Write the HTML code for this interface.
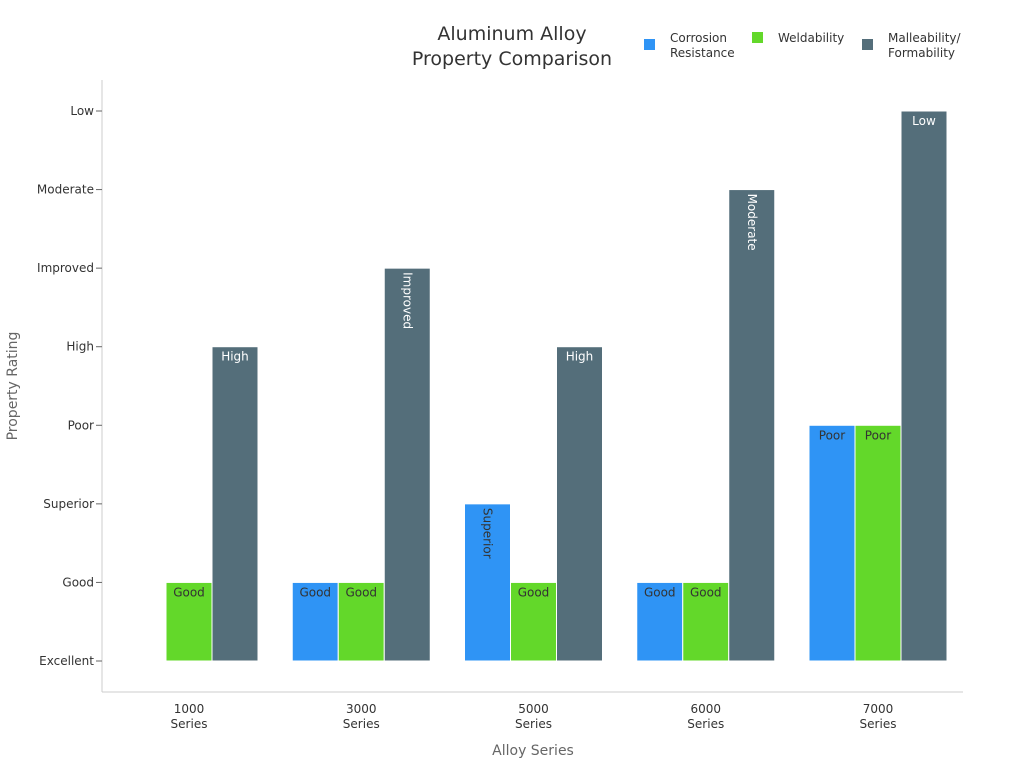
<!DOCTYPE html>
<html><head><meta charset="utf-8"><style>
body{margin:0;background:#fff;font-family:"Liberation Sans","DejaVu Sans",sans-serif}
</style></head><body>
<svg id="chart" width="1024" height="768" xmlns="http://www.w3.org/2000/svg" font-family="DejaVu Sans, Liberation Sans, sans-serif">
<text x="512" y="40" text-anchor="middle" font-size="19" fill="#333"><tspan x="512">Aluminum Alloy</tspan><tspan x="512" dy="25">Property Comparison</tspan></text>
<g font-size="12" fill="#333">
<rect x="644" y="39" width="11" height="11" fill="#2f94f5"/>
<text x="670" y="42"><tspan x="670">Corrosion</tspan><tspan x="670" dy="15">Resistance</tspan></text>
<rect x="752" y="32" width="11" height="11" fill="#63d82a"/>
<text x="778" y="42">Weldability</text>
<rect x="862" y="39" width="11" height="11" fill="#546e7a"/>
<text x="888" y="42"><tspan x="888">Malleability/</tspan><tspan x="888" dy="15">Formability</tspan></text>
</g>
<line x1="102" y1="80" x2="102" y2="692" stroke="#ccc"/>
<line x1="102" y1="692" x2="963" y2="692" stroke="#ccc"/>
<text transform="translate(17,386) rotate(-90)" text-anchor="middle" font-size="14" fill="#666">Property Rating</text>
<text x="533" y="755" text-anchor="middle" font-size="14" fill="#666">Alloy Series</text>
<g id="plot"></g>
</svg>
<script>
const categories = ["1000", "3000", "5000", "6000", "7000"];
const yLevels = ["Excellent", "Good", "Superior", "Poor", "High", "Improved", "Moderate", "Low"];
const corrosion = [0, 1, 2, 1, 3];
const weldability = [1, 1, 1, 1, 3];
const malleability = [4, 5, 4, 6, 7];
const seriesNames = ["corrosion", "weldability", "malleability"];
const seriesColors = ["#2f94f5", "#63d82a", "#546e7a"];

const NS = "http://www.w3.org/2000/svg";
const plot = document.getElementById("plot");
const y0 = 661, yStep = (661 - 111) / 7;
function yScale(v) { return y0 - v * yStep; }
const xStart = 189, xStep = (878 - 189) / 4, barW = 46;
function xCenter(i) { return xStart + i * xStep; }
function mk(tag, attrs) { const e = document.createElementNS(NS, tag); for (const k in attrs) e.setAttribute(k, attrs[k]); return e; }

yLevels.forEach((lab, i) => {
  const y = yScale(i);
  const t = mk("line", {x1: 96, x2: 102, y1: y, y2: y, stroke: "#666"});
  
  
  plot.appendChild(t);
  const tx = mk("text", {x: 94, y: y + 4, "text-anchor": "end", "font-size": 12, fill: "#333"});
  
  
  tx.textContent = lab;
  plot.appendChild(tx);
});

categories.forEach((c, i) => {
  const tx = mk("text", {x: xCenter(i), y: 713, "text-anchor": "middle", "font-size": 12, fill: "#333"});
  
  
  tx.innerHTML = '<tspan x="' + xCenter(i) + '">' + c + '</tspan><tspan x="' + xCenter(i) + '" dy="15">Series</tspan>';
  plot.appendChild(tx);
});

[corrosion, weldability, malleability].forEach((arr, s) => {
  arr.forEach((v, i) => {
    const x = xCenter(i) - 1.5 * barW + s * barW;
    const top = yScale(v);
    const h = y0 - top;
    if (h <= 0) return;
    const r = mk("rect", {x: x, y: top, width: barW, height: h, fill: seriesColors[s], stroke: "#fff", "stroke-width": 1});
    
    
    plot.appendChild(r);
    const lab = yLevels[v];
    const col = s === 2 ? "#fff" : "#333";
    let t;
    if (lab.length * 7 > barW - 4) {
      t = mk("text", {transform: "translate(" + (x + barW / 2 - 4) + "," + (top + 4) + ") rotate(90)", "font-size": 12, fill: col});
    } else {
      t = mk("text", {x: x + barW / 2, y: top + 14, "text-anchor": "middle", "font-size": 12, fill: col});
    }
    
    
    t.textContent = lab;
    plot.appendChild(t);
  });
});
</script>
</body></html>
